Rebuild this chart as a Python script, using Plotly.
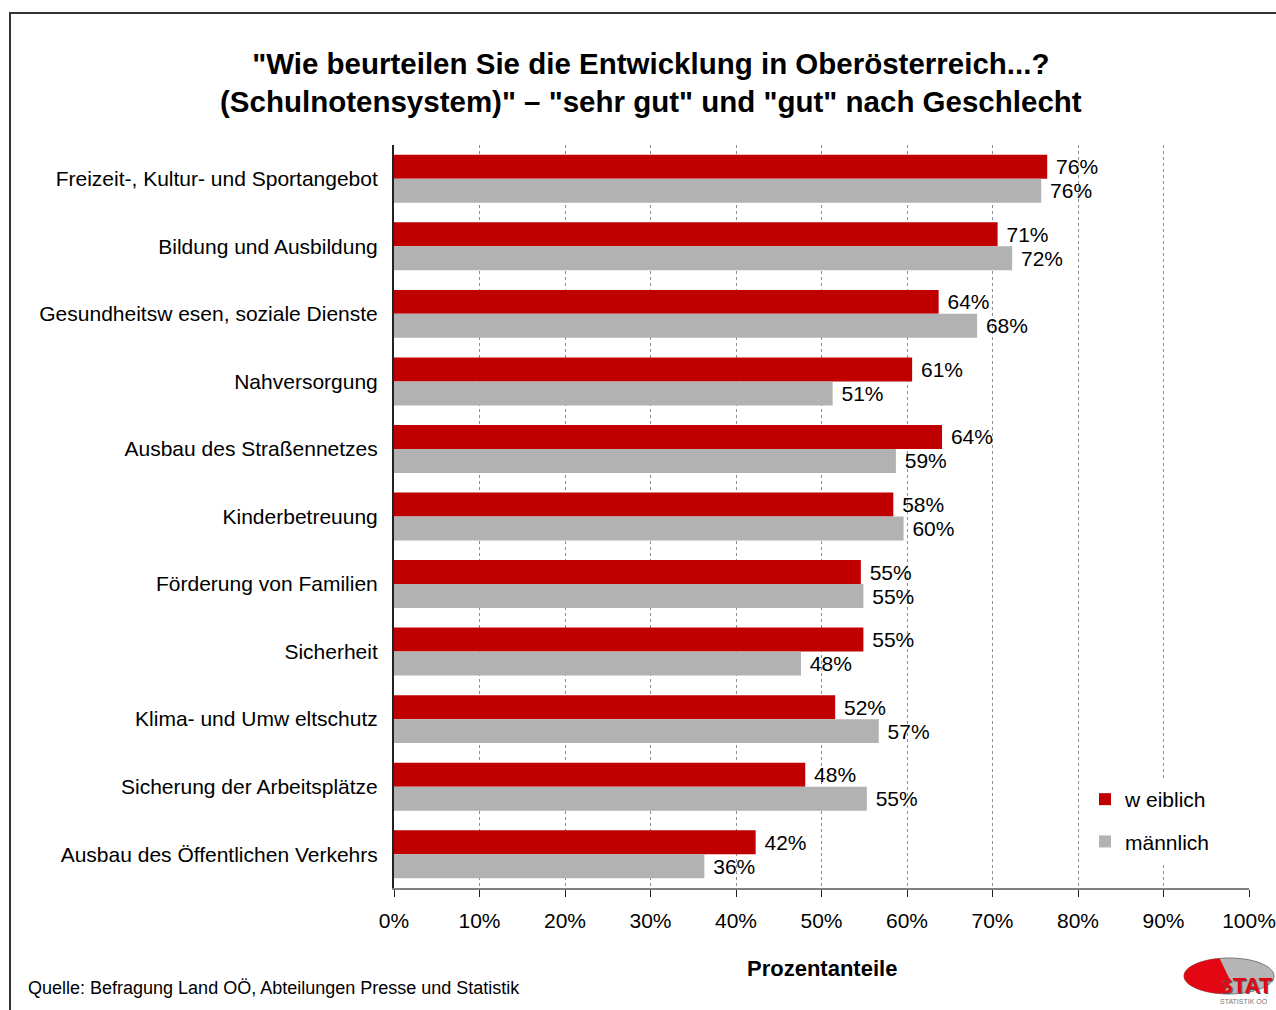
import math
import plotly.graph_objects as go

categories = [
    "Freizeit-, Kultur- und Sportangebot",
    "Bildung und Ausbildung",
    "Gesundheitsw esen, soziale Dienste",
    "Nahversorgung",
    "Ausbau des Straßennetzes",
    "Kinderbetreuung",
    "Förderung von Familien",
    "Sicherheit",
    "Klima- und Umw eltschutz",
    "Sicherung der Arbeitsplätze",
    "Ausbau des Öffentlichen Verkehrs",
]
weiblich = [76.4, 70.6, 63.7, 60.6, 64.1, 58.4, 54.6, 54.9, 51.6, 48.1, 42.3]
maennlich = [75.7, 72.3, 68.2, 51.3, 58.7, 59.6, 54.9, 47.6, 56.7, 55.3, 36.3]
x_ticks = [0, 10, 20, 30, 40, 50, 60, 70, 80, 90, 100]

FONT = "Liberation Sans, Arial, sans-serif"
W, H = 1276, 1010
L, R, T, B = 394, 27, 145, 122
PW, PH = W - L - R, H - T - B


def px(x):
    return (x - L) / PW


def py(y):
    return (H - B - y) / PH


NB = "\u00a0"
fig = go.Figure()
fig.add_trace(go.Bar(
    y=categories, x=weiblich, orientation="h", name="w eiblich",
    marker=dict(color="#C00000", line=dict(width=0)),
    text=[f"{NB}{v:.0f}%" for v in weiblich], textposition="outside",
    textfont=dict(size=21, color="#000000", family=FONT),
    constraintext="none", cliponaxis=False, legendgroup="w",
))
fig.add_trace(go.Bar(
    y=categories, x=maennlich, orientation="h", name="männlich",
    marker=dict(color="#B2B2B2", line=dict(width=0)),
    text=[f"{NB}{v:.0f}%" for v in maennlich], textposition="outside",
    textfont=dict(size=21, color="#000000", family=FONT),
    constraintext="none", cliponaxis=False, legendgroup="m",
))

shapes = []
# outer frame (left and top border)
shapes.append(dict(type="path", xref="paper", yref="paper",
                   path=f"M {px(10)},{py(1012)} L {px(10)},{py(13)} L {px(1280)},{py(13)}",
                   line=dict(color="#333333", width=2)))

# logo: ellipse with red slice
cx, cy, rx, ry = 1229, 976, 45, 18
pts_g = []
for i in range(0, 73):
    a = 2 * math.pi * i / 72
    pts_g.append((cx + rx * math.cos(a), cy + ry * math.sin(a)))
path_g = "M " + " L ".join(f"{px(a)},{py(b)}" for a, b in pts_g) + " Z"
shapes.append(dict(type="path", xref="paper", yref="paper", path=path_g,
                   fillcolor="#B5B5B5", line=dict(color="#777777", width=1)))
pts_r = [(cx + 2, cy + 6)]
for i in range(0, 41):
    a = math.radians(262 - 160 * i / 40)
    pts_r.append((cx + rx * math.cos(a), cy - ry * math.sin(a)))
path_r = "M " + " L ".join(f"{px(a)},{py(b)}" for a, b in pts_r) + " Z"
shapes.append(dict(type="path", xref="paper", yref="paper", path=path_r,
                   fillcolor="#E30613", line=dict(width=0)))

annotations = [
    dict(text='"Wie beurteilen Sie die Entwicklung in Oberösterreich...?<br>'
              '(Schulnotensystem)" – "sehr gut" und "gut" nach Geschlecht',
         xref="paper", yref="paper", x=px(651), y=py(83), xanchor="center", yanchor="middle",
         showarrow=False, align="center",
         font=dict(size=29.5, color="#000000", family=FONT, weight="bold")),
    dict(text="Prozentanteile", xref="paper", yref="paper", x=px(822), y=py(968),
         xanchor="center", yanchor="middle", showarrow=False,
         font=dict(size=22, color="#000000", family=FONT, weight="bold")),
    dict(text="Quelle: Befragung Land OÖ, Abteilungen Presse und Statistik",
         xref="paper", yref="paper", x=px(26), y=py(988), xanchor="left", yanchor="middle",
         showarrow=False, font=dict(size=18, color="#000000", family=FONT)),
    dict(text="STAT", xref="paper", yref="paper", x=px(1216), y=py(985),
         xanchor="left", yanchor="middle", showarrow=False,
         font=dict(size=22, color="#E30613", family=FONT, weight="bold",
                   shadow="1px 1px 0px #555555")),
    dict(text="STATISTIK OÖ", xref="paper", yref="paper", x=px(1218), y=py(1002),
         xanchor="left", yanchor="middle", showarrow=False,
         font=dict(size=7, color="#777777", family=FONT)),
]

fig.update_layout(
    width=W, height=H, autosize=False,
    margin=dict(l=L, r=R, t=T, b=B, pad=0, autoexpand=False),
    paper_bgcolor="#FFFFFF", plot_bgcolor="#FFFFFF",
    font=dict(family=FONT, size=21, color="#000000"),
    barmode="group", bargap=0.29, bargroupgap=0,
    showlegend=True,
    legend=dict(x=px(1085), y=py(779), xanchor="left", yanchor="top",
                bgcolor="#FFFFFF", borderwidth=0, traceorder="grouped",
                tracegroupgap=12, font=dict(size=21, color="#000000", family=FONT)),
    xaxis=dict(range=[0, 100], tickvals=x_ticks, ticktext=[f"{v}%" for v in x_ticks],
               automargin=False,
               showgrid=True, gridcolor="#8C8C8C", griddash="3px,3px", gridwidth=1,
               showline=True, linecolor="#7F7F7F", linewidth=2,
               ticks="outside", ticklen=7, tickcolor="#222222", tickwidth=1,
               ticklabelstandoff=6, zeroline=False,
               tickfont=dict(size=21, color="#000000", family=FONT)),
    yaxis=dict(autorange="reversed", showgrid=False, showline=True, automargin=False,
               linecolor="#222222", linewidth=2, ticks="", ticklabelstandoff=10,
               tickfont=dict(size=21, color="#000000", family=FONT)),
    shapes=shapes, annotations=annotations,
)

fig.write_html(
    "out.html",
    config={"responsive": False, "displayModeBar": False},
    default_width="1276px", default_height="1010px",
    post_script=("document.body.style.margin='0';"
                 "document.body.style.overflow='hidden';"
                 "document.documentElement.style.overflow='hidden';"),
)
